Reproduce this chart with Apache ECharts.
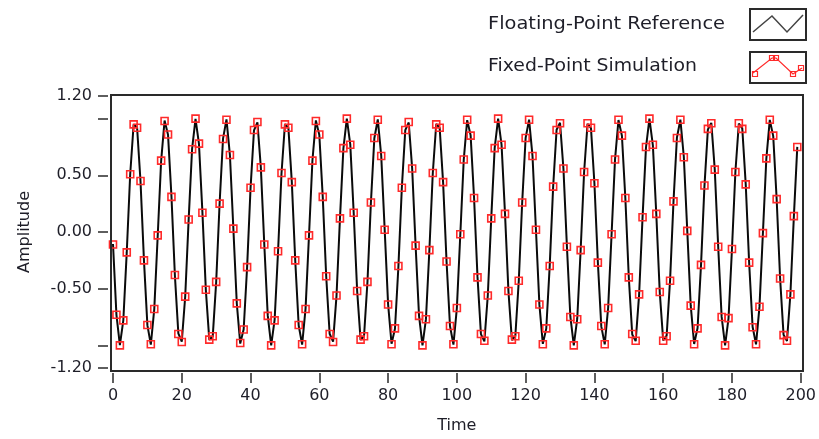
<!DOCTYPE html>
<html>
<head>
<meta charset="utf-8">
<script src="https://cdn.jsdelivr.net/npm/echarts@6/dist/echarts.min.js"></script>
<style>
  html, body { margin: 0; padding: 0; background: #ffffff; }
  #chart { width: 819px; height: 439px; }
</style>
</head>
<body>
<div id="chart"></div>
<script>
// Sampled sine response: floating-point reference vs. fixed-point simulation
const seriesNames = ['Floating-Point Reference', 'Fixed-Point Simulation'];

const floatRef = [
  -0.106, -0.731, -0.999, -0.779, -0.178, 0.510, 0.949, 0.924, 0.448, -0.248,
  -0.822, -0.994, -0.681, -0.035, 0.628, 0.984, 0.859, 0.314, -0.384, -0.895,
  -0.968, -0.569, 0.109, 0.734, 0.999, 0.777, 0.175, -0.513, -0.950, -0.923,
  -0.444, 0.251, 0.824, 0.994, 0.679, 0.031, -0.631, -0.985, -0.858, -0.311,
  0.387, 0.896, 0.968, 0.566, -0.112, -0.736, -1.000, -0.775, -0.172, 0.516,
  0.951, 0.921, 0.442, -0.254, -0.825, -0.993, -0.676, -0.028, 0.633, 0.985,
  0.856, 0.308, -0.390, -0.898, -0.967, -0.563, 0.116, 0.738, 1.000, 0.773,
  0.168, -0.519, -0.952, -0.920, -0.439, 0.257, 0.827, 0.993, 0.674, 0.025,
  -0.636, -0.986, -0.854, -0.305, 0.393, 0.899, 0.966, 0.561, -0.119, -0.740,
  -1.000, -0.771, -0.165, 0.521, 0.953, 0.919, 0.436, -0.260, -0.829, -0.993,
  -0.671, -0.022, 0.638, 0.987, 0.853, 0.302, -0.396, -0.901, -0.965, -0.558,
  0.122, 0.743, 1.000, 0.769, 0.162, -0.524, -0.954, -0.918, -0.433, 0.264,
  0.831, 0.992, 0.669, 0.018, -0.641, -0.987, -0.851, -0.299, 0.399, 0.902,
  0.964, 0.555, -0.125, -0.745, -1.000, -0.767, -0.159, 0.527, 0.955, 0.916,
  0.430, -0.267, -0.833, -0.992, -0.666, -0.015, 0.643, 0.988, 0.849, 0.296,
  -0.402, -0.904, -0.963, -0.552, 0.129, 0.747, 1.000, 0.765, 0.155, -0.530,
  -0.956, -0.915, -0.427, 0.270, 0.834, 0.991, 0.664, 0.012, -0.646, -0.988,
  -0.847, -0.292, 0.405, 0.905, 0.963, 0.550, -0.132, -0.749, -1.000, -0.762,
  -0.152, 0.532, 0.957, 0.914, 0.424, -0.273, -0.836, -0.991, -0.661, -0.009,
  0.648, 0.989, 0.846, 0.289, -0.408, -0.906, -0.962, -0.547, 0.135, 0.751
];

const fixedSim = [
  -0.11, -0.73, -1.00, -0.78, -0.18, 0.51, 0.95, 0.92, 0.45, -0.25,
  -0.82, -0.99, -0.68, -0.03, 0.63, 0.98, 0.86, 0.31, -0.38, -0.90,
  -0.97, -0.57, 0.11, 0.73, 1.00, 0.78, 0.17, -0.51, -0.95, -0.92,
  -0.44, 0.25, 0.82, 0.99, 0.68, 0.03, -0.63, -0.98, -0.86, -0.31,
  0.39, 0.90, 0.97, 0.57, -0.11, -0.74, -1.00, -0.78, -0.17, 0.52,
  0.95, 0.92, 0.44, -0.25, -0.82, -0.99, -0.68, -0.03, 0.63, 0.98,
  0.86, 0.31, -0.39, -0.90, -0.97, -0.56, 0.12, 0.74, 1.00, 0.77,
  0.17, -0.52, -0.95, -0.92, -0.44, 0.26, 0.83, 0.99, 0.67, 0.02,
  -0.64, -0.99, -0.85, -0.30, 0.39, 0.90, 0.97, 0.56, -0.12, -0.74,
  -1.00, -0.77, -0.16, 0.52, 0.95, 0.92, 0.44, -0.26, -0.83, -0.99,
  -0.67, -0.02, 0.64, 0.99, 0.85, 0.30, -0.40, -0.90, -0.96, -0.56,
  0.12, 0.74, 1.00, 0.77, 0.16, -0.52, -0.95, -0.92, -0.43, 0.26,
  0.83, 0.99, 0.67, 0.02, -0.64, -0.99, -0.85, -0.30, 0.40, 0.90,
  0.96, 0.56, -0.13, -0.75, -1.00, -0.77, -0.16, 0.53, 0.96, 0.92,
  0.43, -0.27, -0.83, -0.99, -0.67, -0.02, 0.64, 0.99, 0.85, 0.30,
  -0.40, -0.90, -0.96, -0.55, 0.13, 0.75, 1.00, 0.77, 0.16, -0.53,
  -0.96, -0.92, -0.43, 0.27, 0.83, 0.99, 0.66, 0.01, -0.65, -0.99,
  -0.85, -0.29, 0.41, 0.91, 0.96, 0.55, -0.13, -0.75, -1.00, -0.76,
  -0.15, 0.53, 0.96, 0.91, 0.42, -0.27, -0.84, -0.99, -0.66, -0.01,
  0.65, 0.99, 0.85, 0.29, -0.41, -0.91, -0.96, -0.55, 0.14, 0.75
];

// Axis scales and ticks
const timeRange = [0, 200];
const timeStep = 20;
const ampRange = [-1.2, 1.2];
const ampTickValues = [-1.2, -1, -0.5, 0, 0.5, 1, 1.2];
const ampLabelValues = [-1.2, -0.5, 0, 0.5, 1.2];

const FONT = '"DejaVu Sans", Verdana, sans-serif';
const TEXT_COLOR = '#1e1e28';
const FRAME_COLOR = '#2a2a2a';
const REF_COLOR = '#0a0a0a';
const SIM_COLOR = '#ff2a2a';

// sample index is the time coordinate
const refPoints = floatRef.map((v, i) => [i, v]);
const simPoints = fixedSim.map((v, i) => [i, v]);

// Legend captions are stretched to the width of the legend column
function textWidth(str, size) {
  const ctx = document.createElement('canvas').getContext('2d');
  ctx.font = size + 'px ' + FONT;
  return ctx.measureText(str).width;
}
const legendFont = 17;
const legendScale0 = 237 / textWidth(seriesNames[0], legendFont);
const legendScale1 = 209 / textWidth(seriesNames[1], legendFont);

const chart = echarts.init(document.getElementById('chart'), null, { renderer: 'canvas' });

const simMarker = (x, y) => ({
  type: 'rect',
  shape: { x: x - 2.5, y: y - 2.5, width: 5, height: 5 },
  style: { fill: 'none', stroke: SIM_COLOR, lineWidth: 1.2 },
  z: 12
});

chart.setOption({
  animation: false,
  backgroundColor: '#ffffff',
  grid: { left: 113, right: 17, top: 96, height: 272, containLabel: false },
  xAxis: {
    type: 'value',
    min: timeRange[0],
    max: timeRange[1],
    interval: timeStep,
    offset: 5,
    name: 'Time',
    nameLocation: 'middle',
    nameGap: 45,
    nameTextStyle: { color: TEXT_COLOR, fontSize: 16, fontFamily: FONT },
    axisLine: { show: false, onZero: false },
    axisTick: { show: true, length: 10, lineStyle: { color: FRAME_COLOR, width: 1.5 } },
    axisLabel: { margin: 15, color: TEXT_COLOR, fontSize: 16, fontFamily: FONT },
    splitLine: { show: false }
  },
  yAxis: {
    type: 'value',
    min: ampRange[0],
    max: ampRange[1],
    offset: 5,
    name: 'Amplitude',
    nameLocation: 'middle',
    nameRotate: 90,
    nameGap: 75,
    nameTextStyle: { color: TEXT_COLOR, fontSize: 16, fontFamily: FONT },
    axisLine: { show: false, onZero: false },
    axisTick: {
      show: true, length: 10, customValues: ampTickValues,
      lineStyle: { color: FRAME_COLOR, width: 1.5 }
    },
    axisLabel: {
      customValues: ampLabelValues,
      formatter: (v) => Number(v).toFixed(2),
      margin: 16, color: TEXT_COLOR, fontSize: 16, fontFamily: FONT
    },
    splitLine: { show: false }
  },
  series: [
    {
      name: seriesNames[0],
      type: 'line',
      data: refPoints,
      showSymbol: false,
      lineStyle: { color: REF_COLOR, width: 2 },
      itemStyle: { color: REF_COLOR },
      z: 2
    },
    {
      name: seriesNames[1],
      type: 'line',
      data: simPoints,
      symbol: 'rect',
      symbolSize: 7,
      showAllSymbol: true,
      lineStyle: { width: 0, opacity: 0 },
      itemStyle: { color: 'rgba(255,255,255,0)', borderColor: SIM_COLOR, borderWidth: 1.6 },
      z: 3
    }
  ],
  graphic: [
    // plot frame
    {
      type: 'rect',
      shape: { x: 111, y: 95, width: 692, height: 276 },
      style: { fill: 'none', stroke: FRAME_COLOR, lineWidth: 2 },
      z: 10, silent: true
    },
    // legend
    {
      type: 'text', x: 488, y: 25, scaleX: legendScale0,
      style: { text: seriesNames[0], fill: TEXT_COLOR, font: legendFont + 'px ' + FONT, verticalAlign: 'middle', align: 'left' },
      z: 10
    },
    {
      type: 'text', x: 488, y: 67, scaleX: legendScale1,
      style: { text: seriesNames[1], fill: TEXT_COLOR, font: legendFont + 'px ' + FONT, verticalAlign: 'middle', align: 'left' },
      z: 10
    },
    {
      type: 'rect', shape: { x: 750, y: 9, width: 56, height: 31 },
      style: { fill: '#ffffff', stroke: FRAME_COLOR, lineWidth: 2 }, z: 10
    },
    {
      type: 'polyline', shape: { points: [[753, 32], [772, 16], [787, 32], [803, 15]] },
      style: { fill: 'none', stroke: '#444444', lineWidth: 1.5 }, z: 11
    },
    {
      type: 'rect', shape: { x: 750, y: 52, width: 56, height: 31 },
      style: { fill: '#ffffff', stroke: FRAME_COLOR, lineWidth: 2 }, z: 10
    },
    {
      type: 'polyline', shape: { points: [[753, 73], [772, 58], [776, 58], [793, 74], [802, 68]] },
      style: { fill: 'none', stroke: SIM_COLOR, lineWidth: 1.2 }, z: 11
    },
    simMarker(755, 74), simMarker(772, 58), simMarker(776, 58), simMarker(793, 74), simMarker(801, 68)
  ]
});
</script>
</body>
</html>
